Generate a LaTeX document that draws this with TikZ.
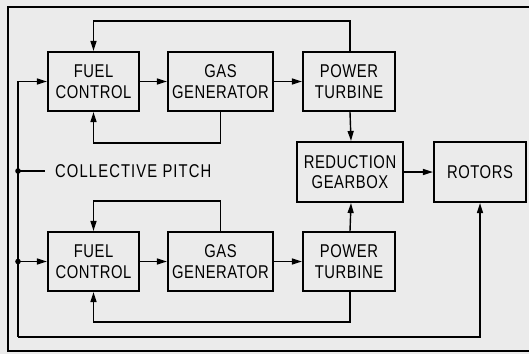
\documentclass[tikz,border=0pt]{standalone}
\usepackage{fontspec}
\setmainfont{Liberation Sans}[FakeStretch=0.8, LetterSpace=3]
\usetikzlibrary{arrows.meta}
\begin{document}
\begin{tikzpicture}[
        x=1pt, y=-1pt,
        block/.style={
          draw,
          line width=2.1pt,
          align=center,
          minimum height=59pt,
          inner sep=0pt,
          font=\fontsize{18.5}{20.5}\selectfont
        },
        link/.style={line width=1.4pt, -{Triangle[length=10pt,width=6pt]}},
        frame/.style={line width=2.8pt}
      ]
      \useasboundingbox (0,0) rectangle (529,354);
      \fill[black!8] (0,0) rectangle (529,354);
      \clip (0,0) rectangle (529,354);
      \draw[frame] (540,7) -- (8,7) -- (8,351) -- (540,351);

      \node[block, minimum width=91pt] (fuel1) at (93.5,81.5) {FUEL\\CONTROL};
      \node[block, minimum width=105pt] (gas1) at (220.5,81.5) {GAS\\GENERATOR};
      \node[block, minimum width=92pt] (power1) at (349,81.5) {POWER\\TURBINE};
      \node[block, minimum width=106pt, minimum height=60pt] (gearbox) at (350,172)
        {REDUCTION\\GEARBOX};
      \node[block, minimum width=92pt, minimum height=60pt] (rotors) at (480,172) {ROTORS};
      \node[block, minimum width=91pt] (fuel2) at (93.5,261.5) {FUEL\\CONTROL};
      \node[block, minimum width=105pt] (gas2) at (220.5,261.5) {GAS\\GENERATOR};
      \node[block, minimum width=92pt] (power2) at (349,261.5) {POWER\\TURBINE};

      \coordinate (pitch) at (18,171);
      \coordinate (split) at (18,261.5);
      \coordinate (bus) at (18,337);
      \node[anchor=west, inner sep=0pt,
        font=\fontsize{18.5}{20.5}\selectfont\addfontfeature{LetterSpace=6}]
        (pitchtext) at (55,171) {COLLECTIVE PITCH};

      \draw[link] (fuel1.east) -- (gas1.west);
      \draw[link] (gas1.east) -- (power1.west);
      \draw[link] (fuel2.east) -- (gas2.west);
      \draw[link] (gas2.east) -- (power2.west);
      \draw[link] ([xshift=1pt]power1.south) -- ([xshift=1pt]gearbox.north);
      \draw[link] ([xshift=1pt]power2.north) -- ([xshift=1pt]gearbox.south);
      \draw[link] (gearbox.east) -- (rotors.west);

      \draw[link] ([xshift=1pt]power1.north) -- ++(0,-30) -| (fuel1.north);
      \draw[link] (gas1.south) -- ++(0,31) -| (fuel1.south);
      \draw[link] (gas2.north) -- ++(0,-30) -| (fuel2.north);
      \draw[link] ([xshift=1pt]power2.south) -- ++(0,30) -| (fuel2.south);

      \draw[link] (bus) -| (rotors.south);
      \draw[link, {Triangle[length=10pt,width=6pt]}-] (fuel1.west) -| (bus);
      \draw[link] (split) -- (fuel2.west);
      \draw[line width=1.4pt] (pitch) -- ([xshift=-10pt]pitchtext.west);
      \fill (pitch) circle (2.8pt);
      \fill (split) circle (2.8pt);
    \end{tikzpicture}
\end{document}
